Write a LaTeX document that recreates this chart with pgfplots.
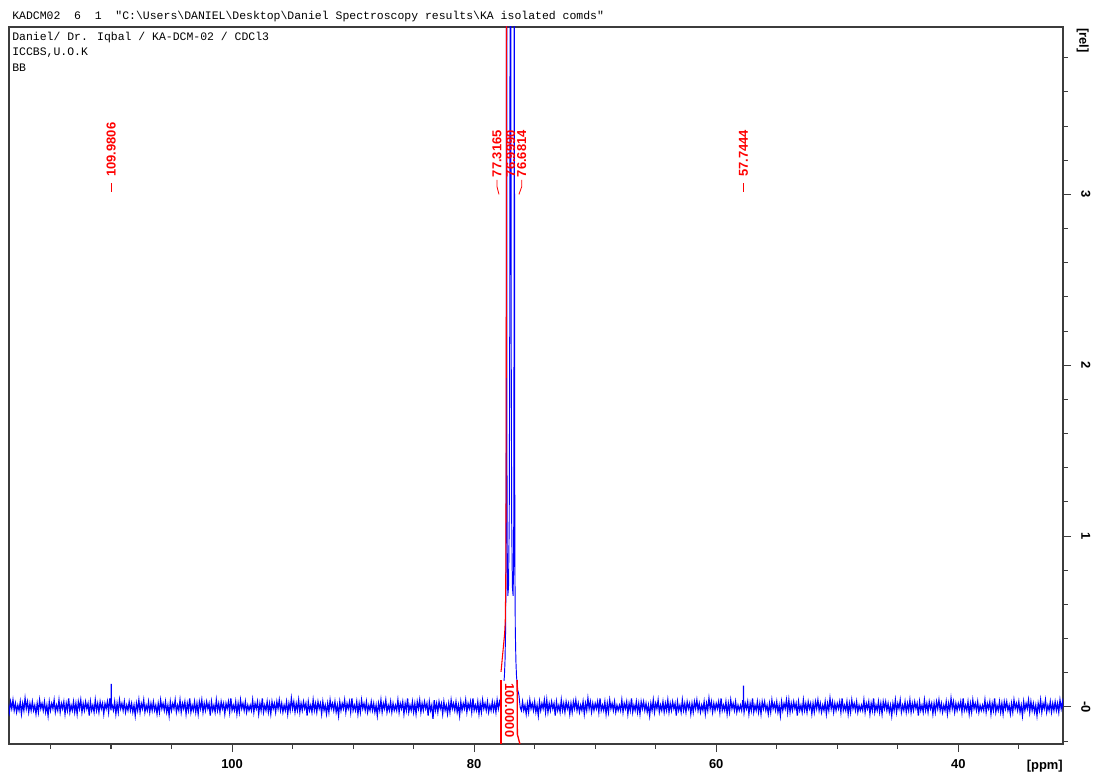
\documentclass[border=0pt]{standalone}
\usepackage{fontspec}
\setmainfont{Liberation Sans}
\newfontfamily\monofont{Liberation Mono}
\usepackage{pgfplots}
\pgfplotsset{compat=1.18}
\definecolor{specblue}{RGB}{0,0,255}
\definecolor{specred}{RGB}{255,0,0}
\definecolor{axgray}{RGB}{60,60,60}
\newcommand{\lblfont}{\fontsize{9.7}{11}\selectfont\bfseries}
\begin{document}
\begin{tikzpicture}
\path[use as bounding box] (0,0) rectangle (821.25pt,582pt);
\begin{axis}[
  at={(6.75pt,24pt)}, anchor=south west,
  scale only axis, width=790.5pt, height=537.75pt,
  x dir=reverse, xmin=31.35, xmax=118.43, ymin=-0.217, ymax=3.98,
  clip mode=individual,
  axis line style={axgray, line width=0.8pt},
  xtick={100,80,60,40},
  minor xtick={115,110,105,95,90,85,75,70,65,55,50,45,35},
  ytick={0,1,2,3}, yticklabels={-0,1,2,3},
  minor ytick={-0.2,0.2,0.4,0.6,0.8,1.2,1.4,1.6,1.8,2.2,2.4,2.6,2.8,3.2,3.4,3.6,3.8},
  tick align=outside, xtick pos=bottom, ytick pos=right, yticklabel pos=right,
  major tick length=6pt, minor tick length=3.5pt,
  every tick/.style={axgray, line width=0.8pt},
  /pgf/number format/assume math mode=true,
  ticklabel style={font=\lblfont},
  xticklabel style={anchor=north, yshift=-2pt},
  yticklabel style={xshift=7.5pt, rotate=-90, anchor=south, inner sep=0pt},
]
% baseline noise, left part
\addplot[specblue, line width=0.9pt] coordinates {
(118.5,0.02)(118.4,-0.03)(118.3,0.03)(118.2,-0.01)(118.1,0.04)(118.0,-0.02)(117.9,0.02)(117.8,-0.03)(117.7,0.01)(117.6,-0.02)(117.5,0.03)(117.4,-0.04)(117.3,0.02)(117.2,-0.02)(117.1,0.05)(117.0,-0.01)(116.9,0.03)(116.8,-0.03)(116.7,0.02)(116.6,-0.02)
(116.5,0.03)(116.4,-0.02)(116.3,0.01)(116.2,-0.04)(116.1,0.02)(116.0,-0.03)(115.9,0.04)(115.8,-0.01)(115.7,0.02)(115.6,-0.02)(115.5,0.03)(115.4,-0.03)(115.3,0.01)(115.2,-0.05)(115.1,0.03)(115.0,-0.02)(114.9,0.02)(114.8,-0.01)(114.7,0.04)(114.6,-0.03)
(114.5,0.01)(114.4,-0.02)(114.3,0.04)(114.2,-0.03)(114.1,0.02)(114.0,-0.01)(113.9,0.03)(113.8,-0.04)(113.7,0.02)(113.6,-0.02)(113.5,0.05)(113.4,-0.03)(113.3,0.01)(113.2,-0.02)(113.1,0.03)(113.0,-0.03)(112.9,0.02)(112.8,-0.04)(112.7,0.03)(112.6,-0.01)
(112.5,0.04)(112.4,-0.03)(112.3,0.02)(112.2,-0.02)(112.1,0.03)(112.0,-0.01)(111.9,0.02)(111.8,-0.05)(111.7,0.03)(111.6,-0.02)(111.5,0.01)(111.4,-0.03)(111.3,0.04)(111.2,-0.02)(111.1,0.02)(111.0,-0.03)(110.9,0.03)(110.8,-0.01)(110.7,0.02)(110.6,-0.04)
(110.5,0.02)(110.4,-0.01)(110.3,0.03)(110.2,-0.03)(110.1,0.05)(110.0,-0.02)(109.99,0.0)(109.9806,0.135)(109.97,0.0)(109.9,0.01)(109.8,-0.02)(109.7,0.03)(109.6,-0.04)(109.5,0.02)(109.4,-0.03)(109.3,0.04)(109.2,-0.01)(109.1,0.02)(109.0,-0.02)(108.9,0.03)(108.8,-0.03)(108.7,0.01)(108.6,-0.02)
(108.5,0.03)(108.4,-0.02)(108.3,0.02)(108.2,-0.03)(108.1,0.01)(108.0,-0.05)(107.9,0.02)(107.8,-0.02)(107.7,0.04)(107.6,-0.03)(107.5,0.02)(107.4,-0.01)(107.3,0.04)(107.2,-0.03)(107.1,0.01)(107.0,-0.02)(106.9,0.03)(106.8,-0.03)(106.7,0.02)(106.6,-0.02)
(106.5,0.03)(106.4,-0.02)(106.3,0.01)(106.2,-0.04)(106.1,0.02)(106.0,-0.03)(105.9,0.04)(105.8,-0.01)(105.7,0.02)(105.6,-0.02)(105.5,0.03)(105.4,-0.03)(105.3,0.01)(105.2,-0.05)(105.1,0.03)(105.0,-0.02)(104.9,0.02)(104.8,-0.01)(104.7,0.04)(104.6,-0.03)
(104.5,0.01)(104.4,-0.02)(104.3,0.04)(104.2,-0.03)(104.1,0.02)(104.0,-0.01)(103.9,0.03)(103.8,-0.04)(103.7,0.02)(103.6,-0.02)(103.5,0.05)(103.4,-0.03)(103.3,0.01)(103.2,-0.02)(103.1,0.03)(103.0,-0.03)(102.9,0.02)(102.8,-0.04)(102.7,0.03)(102.6,-0.01)
(102.5,0.04)(102.4,-0.03)(102.3,0.02)(102.2,-0.02)(102.1,0.03)(102.0,-0.01)(101.9,0.02)(101.8,-0.05)(101.7,0.03)(101.6,-0.02)(101.5,0.01)(101.4,-0.03)(101.3,0.04)(101.2,-0.02)(101.1,0.02)(101.0,-0.03)(100.9,0.03)(100.8,-0.01)(100.7,0.02)(100.6,-0.04)
(100.5,0.02)(100.4,-0.01)(100.3,0.03)(100.2,-0.03)(100.1,0.05)(100.0,-0.02)(99.9,0.01)(99.8,-0.02)(99.7,0.03)(99.6,-0.04)(99.5,0.02)(99.4,-0.03)(99.3,0.04)(99.2,-0.01)(99.1,0.02)(99.0,-0.02)(98.9,0.03)(98.8,-0.03)(98.7,0.01)(98.6,-0.02)
(98.5,0.01)(98.4,-0.02)(98.3,0.04)(98.2,-0.03)(98.1,0.02)(98.0,-0.01)(97.9,0.03)(97.8,-0.04)(97.7,0.02)(97.6,-0.02)(97.5,0.05)(97.4,-0.03)(97.3,0.01)(97.2,-0.02)(97.1,0.03)(97.0,-0.03)(96.9,0.02)(96.8,-0.04)(96.7,0.03)(96.6,-0.01)
(96.5,0.02)(96.4,-0.03)(96.3,0.03)(96.2,-0.01)(96.1,0.04)(96.0,-0.02)(95.9,0.02)(95.8,-0.03)(95.7,0.01)(95.6,-0.02)(95.5,0.03)(95.4,-0.04)(95.3,0.02)(95.2,-0.02)(95.1,0.05)(95.0,-0.01)(94.9,0.03)(94.8,-0.03)(94.7,0.02)(94.6,-0.02)
(94.5,0.04)(94.4,-0.03)(94.3,0.02)(94.2,-0.02)(94.1,0.03)(94.0,-0.01)(93.9,0.02)(93.8,-0.05)(93.7,0.03)(93.6,-0.02)(93.5,0.01)(93.4,-0.03)(93.3,0.04)(93.2,-0.02)(93.1,0.02)(93.0,-0.03)(92.9,0.03)(92.8,-0.01)(92.7,0.02)(92.6,-0.04)
(92.5,0.03)(92.4,-0.02)(92.3,0.01)(92.2,-0.04)(92.1,0.02)(92.0,-0.03)(91.9,0.04)(91.8,-0.01)(91.7,0.02)(91.6,-0.02)(91.5,0.03)(91.4,-0.03)(91.3,0.01)(91.2,-0.05)(91.1,0.03)(91.0,-0.02)(90.9,0.02)(90.8,-0.01)(90.7,0.04)(90.6,-0.03)
(90.5,0.02)(90.4,-0.01)(90.3,0.03)(90.2,-0.03)(90.1,0.05)(90.0,-0.02)(89.9,0.01)(89.8,-0.02)(89.7,0.03)(89.6,-0.04)(89.5,0.02)(89.4,-0.03)(89.3,0.04)(89.2,-0.01)(89.1,0.02)(89.0,-0.02)(88.9,0.03)(88.8,-0.03)(88.7,0.01)(88.6,-0.02)
(88.5,0.03)(88.4,-0.02)(88.3,0.02)(88.2,-0.03)(88.1,0.01)(88.0,-0.05)(87.9,0.02)(87.8,-0.02)(87.7,0.04)(87.6,-0.03)(87.5,0.02)(87.4,-0.01)(87.3,0.04)(87.2,-0.03)(87.1,0.01)(87.0,-0.02)(86.9,0.03)(86.8,-0.03)(86.7,0.02)(86.6,-0.02)
(86.5,0.01)(86.4,-0.02)(86.3,0.04)(86.2,-0.03)(86.1,0.02)(86.0,-0.01)(85.9,0.03)(85.8,-0.04)(85.7,0.02)(85.6,-0.02)(85.5,0.05)(85.4,-0.03)(85.3,0.01)(85.2,-0.02)(85.1,0.03)(85.0,-0.03)(84.9,0.02)(84.8,-0.04)(84.7,0.03)(84.6,-0.01)
(84.5,0.04)(84.4,-0.03)(84.3,0.02)(84.2,-0.02)(84.1,0.03)(84.0,-0.01)(83.9,0.02)(83.8,-0.05)(83.7,0.03)(83.6,-0.02)(83.5,0.01)(83.4,-0.07)(83.3,0.04)(83.2,-0.02)(83.1,0.02)(83.0,-0.03)(82.9,0.03)(82.8,-0.01)(82.7,0.02)(82.6,-0.04)
(82.5,0.03)(82.4,-0.02)(82.3,0.01)(82.2,-0.04)(82.1,0.02)(82.0,-0.03)(81.9,0.04)(81.8,-0.01)(81.7,0.02)(81.6,-0.02)(81.5,0.03)(81.4,-0.03)(81.3,0.01)(81.2,-0.05)(81.1,0.03)(81.0,-0.02)(80.9,0.02)(80.8,-0.01)(80.7,0.04)(80.6,-0.03)
(80.5,0.02)(80.4,-0.01)(80.3,0.03)(80.2,-0.03)(80.1,0.05)(80.0,-0.02)(79.9,0.01)(79.8,-0.02)(79.7,0.03)(79.6,-0.04)(79.5,0.02)(79.4,-0.03)(79.3,0.04)(79.2,-0.01)(79.1,0.02)(79.0,-0.02)(78.9,0.03)(78.8,-0.03)(78.7,0.01)(78.6,-0.02)
(78.5,0.03)(78.4,-0.02)(78.3,0.02)(78.2,-0.03)(78.1,0.04)(78.0,-0.01)(77.9,0.03)(77.8,0.0)
};
% CDCl3 triplet
\addplot[specblue, line width=0.7pt] coordinates {
(77.8,0.0)(77.7,0.07)(77.6,0.1)(77.5,0.18)(77.45,0.27)(77.40,0.45)(77.37,0.8)(77.35,1.5)(77.335,3.2)(77.3165,12)(77.30,3.2)(77.285,1.4)(77.26,0.85)(77.22,0.65)(77.16,0.7)(77.10,1.1)(77.06,2.2)(77.03,4.5)(76.999,12)(76.97,4.5)(76.94,2.2)(76.90,1.1)(76.84,0.7)(76.78,0.65)(76.74,0.85)(76.715,1.4)(76.70,3.2)(76.6814,12)(76.665,3.2)(76.65,1.5)(76.63,0.8)(76.60,0.45)(76.55,0.27)(76.50,0.18)(76.4,0.1)(76.3,0.07)(76.2,0.0)
};
% baseline noise, right part
\addplot[specblue, line width=0.9pt] coordinates {
(76.2,0.0)(76.1,-0.02)
(76.0,0.03)(75.9,-0.02)(75.8,0.01)(75.7,-0.04)(75.6,0.02)(75.5,-0.03)(75.4,0.04)(75.3,-0.01)(75.2,0.02)(75.1,-0.02)(75.0,0.03)(74.9,-0.03)(74.8,0.01)(74.7,-0.05)(74.6,0.03)(74.5,-0.02)(74.4,0.02)(74.3,-0.01)(74.2,0.04)(74.1,-0.03)
(74.0,0.04)(73.9,-0.03)(73.8,0.02)(73.7,-0.02)(73.6,0.03)(73.5,-0.01)(73.4,0.02)(73.3,-0.05)(73.2,0.03)(73.1,-0.02)(73.0,0.01)(72.9,-0.03)(72.8,0.04)(72.7,-0.02)(72.6,0.02)(72.5,-0.03)(72.4,0.03)(72.3,-0.01)(72.2,0.02)(72.1,-0.04)
(72.0,0.02)(71.9,-0.03)(71.8,0.03)(71.7,-0.01)(71.6,0.04)(71.5,-0.02)(71.4,0.02)(71.3,-0.03)(71.2,0.01)(71.1,-0.02)(71.0,0.03)(70.9,-0.04)(70.8,0.02)(70.7,-0.02)(70.6,0.05)(70.5,-0.01)(70.4,0.03)(70.3,-0.03)(70.2,0.02)(70.1,-0.02)
(70.0,0.02)(69.9,-0.01)(69.8,0.03)(69.7,-0.03)(69.6,0.05)(69.5,-0.02)(69.4,0.01)(69.3,-0.02)(69.2,0.03)(69.1,-0.04)(69.0,0.02)(68.9,-0.03)(68.8,0.04)(68.7,-0.01)(68.6,0.02)(68.5,-0.02)(68.4,0.03)(68.3,-0.03)(68.2,0.01)(68.1,-0.02)
(68.0,0.01)(67.9,-0.02)(67.8,0.04)(67.7,-0.03)(67.6,0.02)(67.5,-0.01)(67.4,0.03)(67.3,-0.04)(67.2,0.02)(67.1,-0.02)(67.0,0.05)(66.9,-0.03)(66.8,0.01)(66.7,-0.02)(66.6,0.03)(66.5,-0.03)(66.4,0.02)(66.3,-0.04)(66.2,0.03)(66.1,-0.01)
(66.0,0.03)(65.9,-0.02)(65.8,0.02)(65.7,-0.03)(65.6,0.01)(65.5,-0.05)(65.4,0.02)(65.3,-0.02)(65.2,0.04)(65.1,-0.03)(65.0,0.02)(64.9,-0.01)(64.8,0.04)(64.7,-0.03)(64.6,0.01)(64.5,-0.02)(64.4,0.03)(64.3,-0.03)(64.2,0.02)(64.1,-0.02)
(64.0,0.04)(63.9,-0.03)(63.8,0.02)(63.7,-0.02)(63.6,0.03)(63.5,-0.01)(63.4,0.02)(63.3,-0.05)(63.2,0.03)(63.1,-0.02)(63.0,0.01)(62.9,-0.03)(62.8,0.04)(62.7,-0.02)(62.6,0.02)(62.5,-0.03)(62.4,0.03)(62.3,-0.01)(62.2,0.02)(62.1,-0.04)
(62.0,0.02)(61.9,-0.03)(61.8,0.03)(61.7,-0.01)(61.6,0.04)(61.5,-0.02)(61.4,0.02)(61.3,-0.03)(61.2,0.01)(61.1,-0.02)(61.0,0.03)(60.9,-0.04)(60.8,0.02)(60.7,-0.02)(60.6,0.05)(60.5,-0.01)(60.4,0.03)(60.3,-0.03)(60.2,0.02)(60.1,-0.02)
(60.0,0.02)(59.9,-0.01)(59.8,0.03)(59.7,-0.03)(59.6,0.05)(59.5,-0.02)(59.4,0.01)(59.3,-0.02)(59.2,0.03)(59.1,-0.04)(59.0,0.02)(58.9,-0.03)(58.8,0.04)(58.7,-0.01)(58.6,0.02)(58.5,-0.02)(58.4,0.03)(58.3,-0.03)(58.2,0.01)(58.1,-0.02)
(58.0,0.01)(57.9,-0.02)(57.8,0.04)(57.755,0.0)(57.7444,0.125)(57.735,0.0)(57.7,-0.03)(57.6,0.02)(57.5,-0.01)(57.4,0.03)(57.3,-0.04)(57.2,0.02)(57.1,-0.02)(57.0,0.05)(56.9,-0.03)(56.8,0.01)(56.7,-0.02)(56.6,0.03)(56.5,-0.03)(56.4,0.02)(56.3,-0.04)(56.2,0.03)(56.1,-0.01)
(56.0,0.03)(55.9,-0.02)(55.8,0.01)(55.7,-0.04)(55.6,0.02)(55.5,-0.03)(55.4,0.04)(55.3,-0.01)(55.2,0.02)(55.1,-0.02)(55.0,0.03)(54.9,-0.03)(54.8,0.01)(54.7,-0.05)(54.6,0.03)(54.5,-0.02)(54.4,0.02)(54.3,-0.01)(54.2,0.04)(54.1,-0.03)
(54.0,0.04)(53.9,-0.03)(53.8,0.02)(53.7,-0.02)(53.6,0.03)(53.5,-0.01)(53.4,0.02)(53.3,-0.05)(53.2,0.03)(53.1,-0.02)(53.0,0.01)(52.9,-0.03)(52.8,0.04)(52.7,-0.02)(52.6,0.02)(52.5,-0.03)(52.4,0.03)(52.3,-0.01)(52.2,0.02)(52.1,-0.04)
(52.0,0.02)(51.9,-0.03)(51.8,0.03)(51.7,-0.01)(51.6,0.04)(51.5,-0.02)(51.4,0.02)(51.3,-0.03)(51.2,0.01)(51.1,-0.02)(51.0,0.03)(50.9,-0.04)(50.8,0.02)(50.7,-0.02)(50.6,0.05)(50.5,-0.01)(50.4,0.03)(50.3,-0.03)(50.2,0.02)(50.1,-0.02)
(50.0,0.02)(49.9,-0.01)(49.8,0.03)(49.7,-0.03)(49.6,0.05)(49.5,-0.02)(49.4,0.01)(49.3,-0.02)(49.2,0.03)(49.1,-0.04)(49.0,0.02)(48.9,-0.03)(48.8,0.04)(48.7,-0.01)(48.6,0.02)(48.5,-0.02)(48.4,0.03)(48.3,-0.03)(48.2,0.01)(48.1,-0.02)
(48.0,0.01)(47.9,-0.02)(47.8,0.04)(47.7,-0.03)(47.6,0.02)(47.5,-0.01)(47.4,0.03)(47.3,-0.04)(47.2,0.02)(47.1,-0.02)(47.0,0.05)(46.9,-0.03)(46.8,0.01)(46.7,-0.02)(46.6,0.03)(46.5,-0.03)(46.4,0.02)(46.3,-0.04)(46.2,0.03)(46.1,-0.01)
(46.0,0.03)(45.9,-0.02)(45.8,0.02)(45.7,-0.03)(45.6,0.01)(45.5,-0.05)(45.4,0.02)(45.3,-0.02)(45.2,0.04)(45.1,-0.03)(45.0,0.02)(44.9,-0.01)(44.8,0.04)(44.7,-0.03)(44.6,0.01)(44.5,-0.02)(44.4,0.03)(44.3,-0.03)(44.2,0.02)(44.1,-0.02)
(44.0,0.04)(43.9,-0.03)(43.8,0.02)(43.7,-0.02)(43.6,0.03)(43.5,-0.01)(43.4,0.02)(43.3,-0.05)(43.2,0.03)(43.1,-0.02)(43.0,0.01)(42.9,-0.03)(42.8,0.04)(42.7,-0.02)(42.6,0.02)(42.5,-0.03)(42.4,0.03)(42.3,-0.01)(42.2,0.02)(42.1,-0.04)
(42.0,0.02)(41.9,-0.03)(41.8,0.03)(41.7,-0.01)(41.6,0.04)(41.5,-0.02)(41.4,0.02)(41.3,-0.03)(41.2,0.01)(41.1,-0.02)(41.0,0.03)(40.9,-0.04)(40.8,0.02)(40.7,-0.02)(40.6,0.05)(40.5,-0.01)(40.4,0.03)(40.3,-0.03)(40.2,0.02)(40.1,-0.02)
(40.0,0.02)(39.9,-0.01)(39.8,0.03)(39.7,-0.03)(39.6,0.05)(39.5,-0.02)(39.4,0.01)(39.3,-0.02)(39.2,0.03)(39.1,-0.04)(39.0,0.02)(38.9,-0.03)(38.8,0.04)(38.7,-0.01)(38.6,0.02)(38.5,-0.02)(38.4,0.03)(38.3,-0.03)(38.2,0.01)(38.1,-0.02)
(38.0,0.01)(37.9,-0.02)(37.8,0.04)(37.7,-0.03)(37.6,0.02)(37.5,-0.01)(37.4,0.03)(37.3,-0.04)(37.2,0.02)(37.1,-0.02)(37.0,0.05)(36.9,-0.03)(36.8,0.01)(36.7,-0.02)(36.6,0.03)(36.5,-0.03)(36.4,0.02)(36.3,-0.04)(36.2,0.03)(36.1,-0.01)
(36.0,0.03)(35.9,-0.02)(35.8,0.01)(35.7,-0.04)(35.6,0.02)(35.5,-0.03)(35.4,0.04)(35.3,-0.01)(35.2,0.02)(35.1,-0.02)(35.0,0.03)(34.9,-0.03)(34.8,0.01)(34.7,-0.05)(34.6,0.03)(34.5,-0.02)(34.4,0.02)(34.3,-0.01)(34.2,0.04)(34.1,-0.03)
(34.0,0.03)(33.9,-0.02)(33.8,0.02)(33.7,-0.03)(33.6,0.01)(33.5,-0.05)(33.4,0.02)(33.3,-0.02)(33.2,0.04)(33.1,-0.03)(33.0,0.02)(32.9,-0.01)(32.8,0.04)(32.7,-0.03)(32.6,0.01)(32.5,-0.02)(32.4,0.03)(32.3,-0.03)(32.2,0.02)(32.1,-0.02)
(32.0,0.03)(31.9,-0.02)(31.8,0.02)(31.7,-0.03)(31.6,0.04)(31.5,-0.01)(31.4,0.03)(31.3,-0.02)
};
% integral curve
\addplot[specred, line width=0.8pt] coordinates {
(77.78,0.205)(77.72,0.25)(77.64,0.31)(77.56,0.37)(77.48,0.43)(77.43,0.5)(77.39,0.7)(77.36,1.3)(77.34,2.6)(77.325,4.5)
};
% integral label area
\fill[white] (axis cs:77.74,-0.205) rectangle (axis cs:76.52,0.15);
\draw[specred, line width=0.8pt] (axis cs:77.78,0.157) -- (axis cs:77.78,-0.217);
\draw[specred, line width=1pt] (axis cs:76.45,0.157) -- (axis cs:76.43,-0.16) -- (axis cs:76.22,-0.217);
\node[specred, font=\lblfont, rotate=-90, inner sep=0pt] at (axis cs:77.08,-0.02) {100.0000};
% peak labels
\node[specred, font=\lblfont, rotate=90, anchor=west, inner sep=0pt] at (axis cs:109.9806,3.015) {\rule[0.3em]{6.75pt}{0.6pt}\hspace{4.5pt}109.9806};
\node[specred, font=\lblfont, rotate=90, anchor=west, inner sep=0pt] at (axis cs:57.7444,3.015) {\rule[0.3em]{6.75pt}{0.6pt}\hspace{4.5pt}57.7444};
\node[specred, font=\lblfont, rotate=90, anchor=west, inner sep=0pt] at (axis cs:78.11,3.10) {77.3165};
\node[specred, font=\lblfont, rotate=90, anchor=west, inner sep=0pt] at (axis cs:76.98,3.10) {76.9990};
\node[specred, font=\lblfont, rotate=90, anchor=west, inner sep=0pt] at (axis cs:76.07,3.10) {76.6814};
\draw[specred, line width=0.6pt] (axis cs:78.11,3.085) -- (axis cs:78.11,3.045) -- (axis cs:77.95,3.0);
\draw[specred, line width=0.6pt] (axis cs:76.07,3.085) -- (axis cs:76.07,3.045) -- (axis cs:76.30,3.0);
\end{axis}
% header and annotation text
\node[anchor=west, inner sep=0pt, font=\monofont\fontsize{8.6}{10}\selectfont] at (9pt,569.25pt)
  {KADCM02\ \ 6\ \ 1\ \ "C:\textbackslash Users\textbackslash DANIEL\textbackslash Desktop\textbackslash Daniel Spectroscopy results\textbackslash KA isolated comds"};
\node[anchor=west, inner sep=0pt, font=\monofont\fontsize{8.6}{10}\selectfont] at (9pt,553.5pt) {Daniel/ Dr. Iqbal / KA-DCM-02 / CDCl3};
\node[anchor=west, inner sep=0pt, font=\monofont\fontsize{8.6}{10}\selectfont] at (9pt,542.25pt) {ICCBS,U.O.K};
\node[anchor=west, inner sep=0pt, font=\monofont\fontsize{8.6}{10}\selectfont] at (9pt,531pt) {BB};
% axis unit labels
\node[anchor=east, inner sep=0pt, font=\lblfont] at (797.25pt,7.5pt) {[ppm]};
\node[anchor=west, rotate=-90, inner sep=0pt, font=\lblfont] at (812pt,561pt) {[rel]};
\end{tikzpicture}
\end{document}
